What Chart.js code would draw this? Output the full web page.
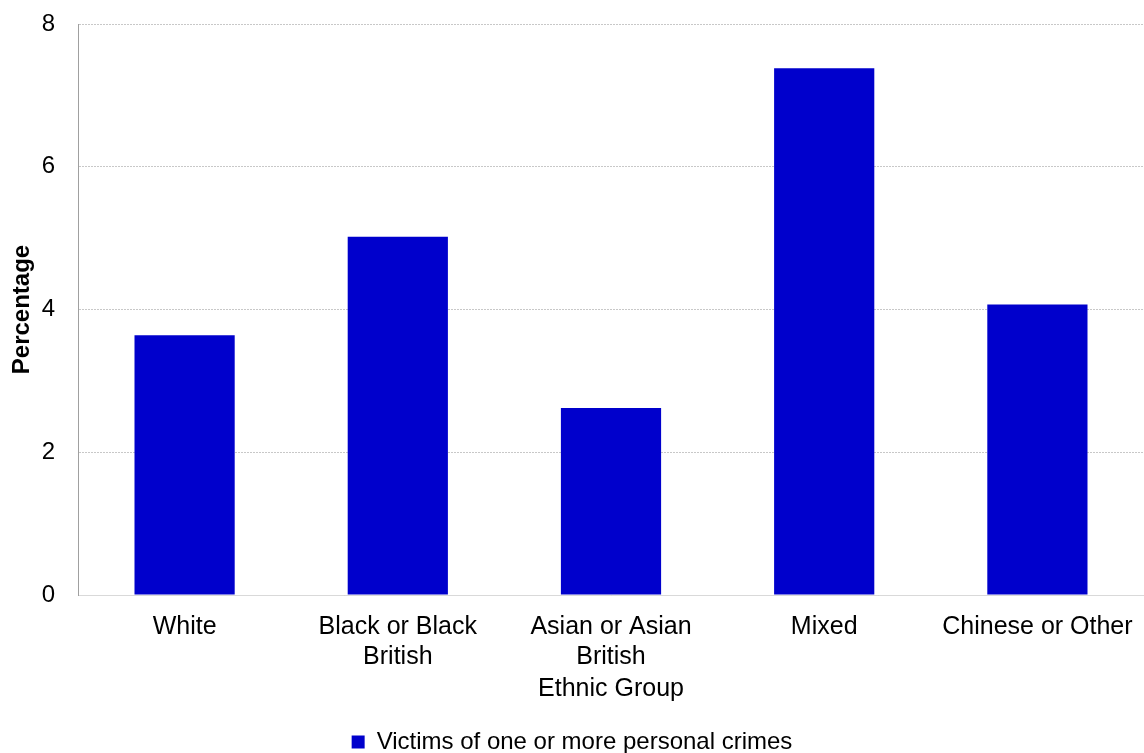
<!DOCTYPE html>
<html>
<head>
<meta charset="utf-8">
<script src="https://cdn.jsdelivr.net/npm/chart.js@4/dist/chart.umd.min.js"></script>
<style>
  body { margin: 0; background: #fff; }
  #wrap { width: 1144px; height: 753px; }
</style>
</head>
<body>
<div id="wrap"><canvas id="myChart" width="1144" height="753"></canvas></div>
<script>
const categories = [["White"], ["Black or Black", "British"], ["Asian or Asian", "British"], ["Mixed"], ["Chinese or Other"]];
const victimValues = [3.64, 5.02, 2.62, 7.38, 4.07];
const seriesLabel = "Victims of one or more personal crimes";
const yTicks = [0, 2, 4, 6, 8];

const fontFamily = "'Liberation Sans', Arial, sans-serif";

document.addEventListener('DOMContentLoaded', function () {
    new Chart("myChart", {
        type: "bar",
        data: {
            labels: categories,
            datasets: [{
                label: seriesLabel,
                data: victimValues,
                backgroundColor: "#0000CC",
                borderColor: "#0000CC",
                borderWidth: 0,
                categoryPercentage: 1,
                barPercentage: 0.47
            }]
        },
        options: {
            responsive: false,
            animation: false,
            layout: { padding: { top: 24, right: 0, left: 0, bottom: -11 } },
            plugins: {
                tooltip: { enabled: false },
                legend: {
                    position: "bottom",
                    labels: {
                        color: "#000",
                        font: { family: fontFamily, size: 24 },
                        boxWidth: 13,
                        boxHeight: 13,
                        padding: 4
                    }
                }
            },
            scales: {
                x: {
                    grid: { display: false, drawTicks: false },
                    border: { color: "#d9d9d9", width: 1 },
                    ticks: {
                        color: "#000",
                        font: { family: fontFamily, size: 25 },
                        padding: 17,
                        maxRotation: 0,
                        autoSkip: false
                    },
                    title: {
                        display: true,
                        text: "Ethnic Group",
                        color: "#000",
                        font: { family: fontFamily, size: 25 },
                        padding: { top: 0, bottom: 22 }
                    },
                    afterFit: function (axis) {
                        axis.height = 131;
                        axis.paddingLeft = 0;
                        axis.paddingRight = 0;
                    }
                },
                y: {
                    min: 0,
                    max: 8,
                    afterBuildTicks: function (axis) {
                        axis.ticks = yTicks.map(function (v) { return { value: v }; });
                    },
                    grid: {
                        color: "#c8c8c8",
                        drawTicks: false
                    },
                    border: { color: "#a0a0a0", width: 1, dash: [2, 1] },
                    ticks: {
                        color: "#000",
                        font: { family: fontFamily, size: 24 },
                        padding: 23
                    },
                    title: {
                        display: true,
                        text: "Percentage",
                        color: "#000",
                        font: { family: fontFamily, size: 24, weight: "bold" },
                        padding: { top: 8, bottom: 0 }
                    },
                    afterFit: function (axis) {
                        axis.width = 78;
                        axis.paddingTop = 0;
                        axis.paddingBottom = 0;
                    }
                }
            }
        }
    });
});
</script>
</body>
</html>
